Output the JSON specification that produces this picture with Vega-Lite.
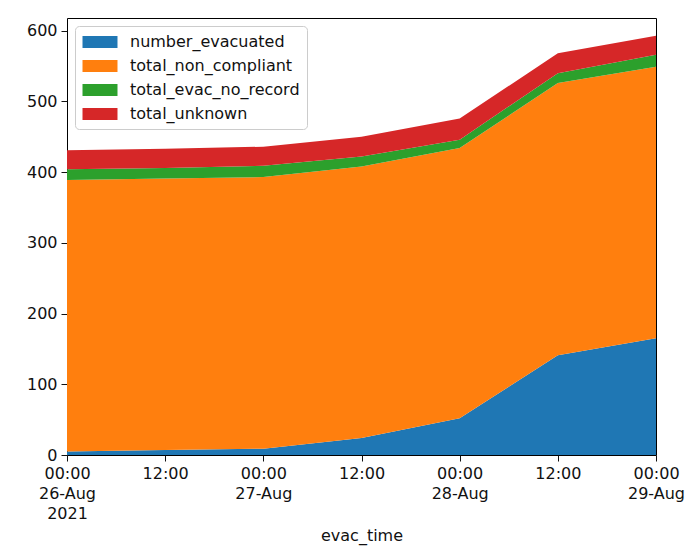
{
  "$schema": "https://vega.github.io/schema/vega-lite/v6.json",
  "autosize": "none",
  "width": 589,
  "height": 437,
  "padding": {"left": 67, "top": 18, "right": 33, "bottom": 91},
  "background": "white",
  "config": {
    "view": {"stroke": "black", "strokeWidth": 1},
    "font": "DejaVu Sans",
    "axis": {"labelFont": "DejaVu Sans", "titleFont": "DejaVu Sans", "labelColor": "#111", "titleColor": "#111", "tickColor": "#111", "domainColor": "#111"}
  },
  "data": {
    "values": [
      {"evac_time": "2021-08-26T00:00:00Z", "series": "number_evacuated", "value": 5},
      {"evac_time": "2021-08-26T00:00:00Z", "series": "total_non_compliant", "value": 384},
      {"evac_time": "2021-08-26T00:00:00Z", "series": "total_evac_no_record", "value": 15},
      {"evac_time": "2021-08-26T00:00:00Z", "series": "total_unknown", "value": 27},
      {"evac_time": "2021-08-26T12:00:00Z", "series": "number_evacuated", "value": 7},
      {"evac_time": "2021-08-26T12:00:00Z", "series": "total_non_compliant", "value": 384},
      {"evac_time": "2021-08-26T12:00:00Z", "series": "total_evac_no_record", "value": 15},
      {"evac_time": "2021-08-26T12:00:00Z", "series": "total_unknown", "value": 27},
      {"evac_time": "2021-08-27T00:00:00Z", "series": "number_evacuated", "value": 9},
      {"evac_time": "2021-08-27T00:00:00Z", "series": "total_non_compliant", "value": 384},
      {"evac_time": "2021-08-27T00:00:00Z", "series": "total_evac_no_record", "value": 16},
      {"evac_time": "2021-08-27T00:00:00Z", "series": "total_unknown", "value": 27},
      {"evac_time": "2021-08-27T12:00:00Z", "series": "number_evacuated", "value": 24},
      {"evac_time": "2021-08-27T12:00:00Z", "series": "total_non_compliant", "value": 384},
      {"evac_time": "2021-08-27T12:00:00Z", "series": "total_evac_no_record", "value": 14},
      {"evac_time": "2021-08-27T12:00:00Z", "series": "total_unknown", "value": 28},
      {"evac_time": "2021-08-28T00:00:00Z", "series": "number_evacuated", "value": 52},
      {"evac_time": "2021-08-28T00:00:00Z", "series": "total_non_compliant", "value": 382},
      {"evac_time": "2021-08-28T00:00:00Z", "series": "total_evac_no_record", "value": 12},
      {"evac_time": "2021-08-28T00:00:00Z", "series": "total_unknown", "value": 30},
      {"evac_time": "2021-08-28T12:00:00Z", "series": "number_evacuated", "value": 141},
      {"evac_time": "2021-08-28T12:00:00Z", "series": "total_non_compliant", "value": 385},
      {"evac_time": "2021-08-28T12:00:00Z", "series": "total_evac_no_record", "value": 14},
      {"evac_time": "2021-08-28T12:00:00Z", "series": "total_unknown", "value": 28},
      {"evac_time": "2021-08-29T00:00:00Z", "series": "number_evacuated", "value": 165},
      {"evac_time": "2021-08-29T00:00:00Z", "series": "total_non_compliant", "value": 384},
      {"evac_time": "2021-08-29T00:00:00Z", "series": "total_evac_no_record", "value": 17},
      {"evac_time": "2021-08-29T00:00:00Z", "series": "total_unknown", "value": 27}
    ]
  },
  "transform": [
    {"calculate": "indexof(['number_evacuated', 'total_non_compliant', 'total_evac_no_record', 'total_unknown'], datum.series)", "as": "stack_rank"}
  ],
  "mark": {"type": "area"},
  "encoding": {
    "x": {
      "field": "evac_time",
      "type": "temporal",
      "scale": {"type": "utc", "domain": [1629936000000, 1630195200000]},
      "axis": {
        "title": "evac_time",
        "titleFontSize": 16,
        "titleFontWeight": "normal",
        "titlePadding": 6,
        "labelFontSize": 16,
        "labelLineHeight": 20,
        "labelPadding": 4,
        "labelAngle": 0,
        "labelFlush": false,
        "labelOverlap": false,
        "tickSize": 6,
        "grid": false,
        "domain": false,
        "values": [1629936000000, 1629979200000, 1630022400000, 1630065600000, 1630108800000, 1630152000000, 1630195200000],
        "labelExpr": "utchours(datum.value) == 0 ? (utcdate(datum.value) == 26 ? [utcFormat(datum.value, '%H:%M'), utcFormat(datum.value, '%d-%b'), '2021'] : [utcFormat(datum.value, '%H:%M'), utcFormat(datum.value, '%d-%b')]) : [utcFormat(datum.value, '%H:%M')]"
      }
    },
    "y": {
      "field": "value",
      "type": "quantitative",
      "stack": "zero",
      "scale": {"domain": [0, 618], "nice": false},
      "axis": {
        "title": null,
        "values": [0, 100, 200, 300, 400, 500, 600],
        "labelFontSize": 16,
        "tickSize": 6,
        "labelPadding": 4,
        "grid": false,
        "domain": false
      }
    },
    "order": {"field": "stack_rank", "type": "quantitative", "sort": "ascending"},
    "color": {
      "field": "series",
      "type": "nominal",
      "scale": {
        "domain": ["number_evacuated", "total_non_compliant", "total_evac_no_record", "total_unknown"],
        "range": ["#1f77b4", "#ff7f0e", "#2ca02c", "#d62728"]
      },
      "legend": {
        "title": null,
        "orient": "top-left",
        "offset": 8,
        "padding": 7,
        "strokeColor": "#cccccc",
        "fillColor": "white",
        "cornerRadius": 4,
        "labelFontSize": 16,
        "labelColor": "#111",
        "labelLimit": 400,
        "labelOffset": 21,
        "rowPadding": 7,
        "symbolType": "M-2,-0.7H2V0.7H-2Z",
        "symbolSize": 306,
        "symbolOffset": 9,
        "symbolStrokeWidth": 0,
        "symbolOpacity": 1
      }
    }
  }
}
